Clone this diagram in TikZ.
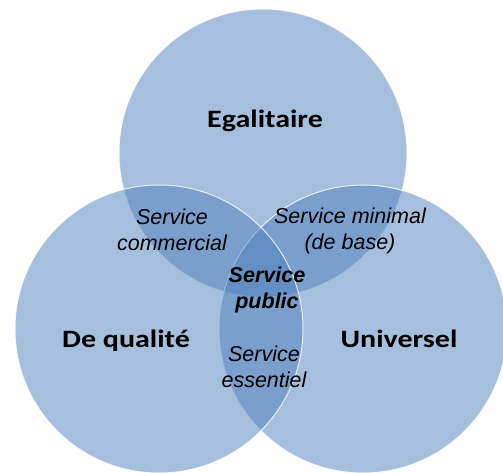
\documentclass[tikz,border=0pt]{standalone}
\usepackage{fontspec}
\setmainfont{Liberation Sans}
\newfontfamily\calfont{Carlito}
\definecolor{vennblue}{HTML}{4F81BD}
\begin{document}
\begin{tikzpicture}[x=1pt,y=-1pt,
  venn/.style={fill=vennblue,fill opacity=0.5,draw=white,draw opacity=0.8,line width=1pt},
  biglabel/.style={font=\calfont\bfseries\fontsize{25}{30}\selectfont,inner sep=0pt,anchor=base},
  smalllabel/.style={font=\itshape\fontsize{21.5}{26}\selectfont,inner sep=0pt,align=center,anchor=base},
  centrelabel/.style={font=\bfseries\itshape\fontsize{21.5}{26}\selectfont,inner sep=0pt,align=center,anchor=base}]
\useasboundingbox (0,0) rectangle (503,473);
\fill[white] (0,0) rectangle (503,473);
\begin{scope}
\clip (0,0) rectangle (503,473);
\draw[venn] (263,153) circle[radius=144];
\draw[venn] (363,329) circle[radius=144];
\draw[venn] (159,329) circle[radius=144];
\end{scope}
\node[biglabel] (egal) at (265,128) {\scalebox{1.2}[1]{Egalitaire}};
\node[biglabel] (qual) at (126,347) {\scalebox{1.2}[1]{De qualité}};
\node[biglabel] (univ) at (399,347) {\scalebox{1.2}[1]{Universel}};
\node[smalllabel] (comm) at (172,250) {Service\\commercial};
\node[smalllabel] (mini) at (350,249) {Service minimal\\(de base)};
\node[centrelabel] (pub) at (267,308) {Service\\public};
\node[smalllabel] (ess) at (264,387) {Service\\essentiel};
\end{tikzpicture}
\end{document}
